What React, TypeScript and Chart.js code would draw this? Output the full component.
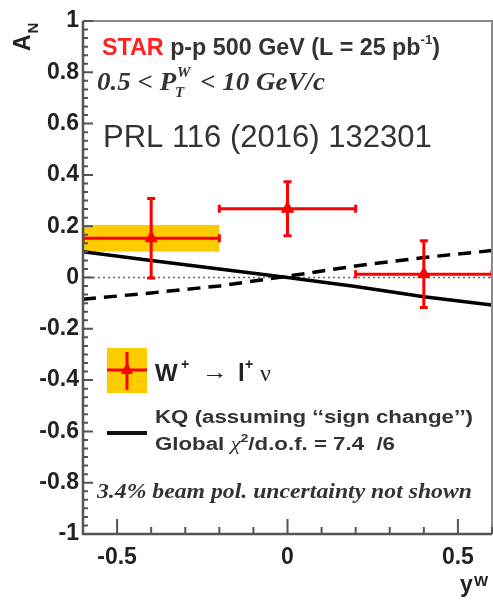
import React, { useEffect, useRef } from "react";
import { Chart, registerables } from "chart.js";

Chart.register(...registerables);

// ---- data ----
const pointX = [-0.4, 0.0, 0.4];
const pointY = [0.153, 0.268, 0.013];
const pointXErr = [0.2, 0.2, 0.2];
const pointYErr = [0.155, 0.105, 0.13];
const sysHalf = [0.052, 0.0, 0.0];
const curveX = [-0.6, -0.4, -0.2, 0, 0.2, 0.4, 0.6];
const kqSolid = [0.1, 0.066, 0.033, 0.0, -0.035, -0.075, -0.107];
const kqDashed = [-0.085, -0.06, -0.033, 0.005, 0.045, 0.078, 0.105];
const xMajorStep = 0.5;
const yMajorStep = 0.2;

const SANS = '"Liberation Sans", Arial, sans-serif';
const SERIF = '"Liberation Serif", "Times New Roman", serif';

type Part = { t: string; font: string; dy?: number; dx?: number; color?: string };

function drawParts(ctx: CanvasRenderingContext2D, parts: Part[], x: number, y: number, width?: number) {
  let total = 0;
  for (const p of parts) {
    ctx.font = p.font;
    total += ctx.measureText(p.t).width + (p.dx || 0);
  }
  const sx = width ? width / total : 1;
  ctx.save();
  ctx.translate(x, y);
  ctx.scale(sx, 1);
  let cx = 0;
  for (const p of parts) {
    ctx.font = p.font;
    if (p.color) ctx.fillStyle = p.color;
    ctx.fillText(p.t, cx, p.dy || 0);
    cx += ctx.measureText(p.t).width + (p.dx || 0);
  }
  ctx.restore();
}

const decor = {
  id: "decor",
  beforeDatasetsDraw(chart: any) {
    const { ctx, chartArea: ca, scales } = chart;
    const xs = scales.x, ys = scales.y;
    ctx.save();
    ctx.beginPath();
    ctx.rect(ca.left, ca.top, ca.right - ca.left, ca.bottom - ca.top);
    ctx.clip();
    ctx.fillStyle = "#ffcc00";
    for (let i = 0; i < pointX.length; i++) {
      if (sysHalf[i] <= 0) continue;
      const x0 = xs.getPixelForValue(pointX[i] - pointXErr[i]);
      const x1 = xs.getPixelForValue(pointX[i] + pointXErr[i]);
      const y0 = ys.getPixelForValue(pointY[i] + sysHalf[i]);
      const y1 = ys.getPixelForValue(pointY[i] - sysHalf[i]);
      ctx.fillRect(x0, y0, x1 - x0, y1 - y0);
    }
    ctx.strokeStyle = "#666";
    ctx.lineWidth = 1.5;
    ctx.setLineDash([2, 3]);
    const yz = ys.getPixelForValue(0);
    ctx.beginPath();
    ctx.moveTo(ca.left, yz);
    ctx.lineTo(ca.right, yz);
    ctx.stroke();
    ctx.restore();
  },
  afterDatasetDraw(chart: any, args: any) {
    if (args.index !== 1) return;
    const { ctx, chartArea: ca, scales } = chart;
    const xs = scales.x, ys = scales.y;
    ctx.save();
    ctx.beginPath();
    ctx.rect(ca.left, ca.top, ca.right - ca.left, ca.bottom - ca.top);
    ctx.clip();
    ctx.strokeStyle = "#ff0000";
    ctx.lineWidth = 3;
    for (let i = 0; i < pointX.length; i++) {
      const px = xs.getPixelForValue(pointX[i]);
      const py = ys.getPixelForValue(pointY[i]);
      const xl = xs.getPixelForValue(pointX[i] - pointXErr[i]);
      const xr = xs.getPixelForValue(pointX[i] + pointXErr[i]);
      const yt = ys.getPixelForValue(pointY[i] + pointYErr[i]);
      const yb = ys.getPixelForValue(pointY[i] - pointYErr[i]);
      ctx.beginPath();
      ctx.moveTo(xl, py); ctx.lineTo(xr, py);
      ctx.moveTo(px, yt); ctx.lineTo(px, yb);
      ctx.moveTo(px - 4, yt); ctx.lineTo(px + 4, yt);
      ctx.moveTo(px - 4, yb); ctx.lineTo(px + 4, yb);
      ctx.moveTo(xl, py - 4); ctx.lineTo(xl, py + 4);
      ctx.moveTo(xr, py - 4); ctx.lineTo(xr, py + 4);
      ctx.stroke();
    }
    ctx.restore();
  },
  afterDraw(chart: any) {
    const { ctx, chartArea: ca, scales } = chart;
    const xs = scales.x, ys = scales.y;
    ctx.save();
    ctx.strokeStyle = "#8a8a8a";
    ctx.lineWidth = 2;
    ctx.beginPath();
    ctx.moveTo(ca.left, ca.top); ctx.lineTo(ca.right, ca.top); ctx.lineTo(ca.right, ca.bottom);
    ctx.stroke();
    ctx.strokeStyle = "#555";
    ctx.lineWidth = 2.5;
    ctx.beginPath();
    ctx.moveTo(ca.left, ca.top); ctx.lineTo(ca.left, ca.bottom); ctx.lineTo(ca.right, ca.bottom);
    ctx.stroke();
    ctx.lineWidth = 2;
    ctx.beginPath();
    const yMinor = yMajorStep / 6;
    for (let k = 0; k <= Math.round((ys.max - ys.min) / yMinor); k++) {
      const v = ys.min + k * yMinor;
      const p = ys.getPixelForValue(v);
      const major = k % 6 === 0;
      ctx.moveTo(ca.left, p); ctx.lineTo(ca.left + (major ? 10 : 5), p);
    }
    const xMinor = xMajorStep / 5;
    for (let k = -6; k <= 6; k++) {
      const p = xs.getPixelForValue(k * xMinor);
      const major = k % 5 === 0;
      ctx.moveTo(p, ca.bottom); ctx.lineTo(p, ca.bottom - (major ? 15 : 7));
    }
    ctx.stroke();

    ctx.textBaseline = "alphabetic";
    ctx.textAlign = "left";
    // A_N
    ctx.save();
    ctx.translate(30, 51);
    ctx.rotate(-Math.PI / 2);
    ctx.fillStyle = "#222";
    ctx.font = `bold 23px ${SANS}`;
    ctx.fillText("A", 0, 0);
    const aw = ctx.measureText("A").width;
    ctx.font = `bold 15px ${SANS}`;
    ctx.fillText("N", aw + 1, 8);
    ctx.restore();

    // y^W
    ctx.fillStyle = "#222";
    ctx.font = `bold 23px ${SANS}`;
    ctx.fillText("y", 460, 592);
    ctx.font = `bold 15px ${SANS}`;
    ctx.fillText("W", 474, 586);

    // STAR line
    drawParts(ctx, [
      { t: "STAR ", font: `bold 23px ${SANS}`, color: "#ff2020" },
      { t: "p-p 500 GeV (L = 25 pb", font: `bold 23px ${SANS}`, color: "#333" },
      { t: "-1", font: `bold 13px ${SANS}`, dy: -11 },
      { t: ")", font: `bold 23px ${SANS}` },
    ], 102, 55, 338);

    // pT line
    ctx.fillStyle = "#333";
    const pFont = `italic bold 25px ${SERIF}`;
    drawParts(ctx, [
      { t: "0.5 < P", font: pFont },
      { t: "", font: pFont, dx: 16 },
      { t: " < 10 GeV/c", font: pFont },
    ], 97, 90, 228);
    ctx.font = pFont;
    const w0 = ctx.measureText("0.5 < P").width;
    const wAll = w0 + 16 + ctx.measureText(" < 10 GeV/c").width;
    const sc = 228 / wAll;
    ctx.font = `italic bold 15px ${SERIF}`;
    ctx.fillText("W", 97 + w0 * sc + 1, 77);
    ctx.fillText("T", 97 + w0 * sc - 1, 97);

    // PRL
    ctx.fillStyle = "#333";
    ctx.font = `31px ${SANS}`;
    ctx.fillText("PRL 116 (2016) 132301", 103, 147);

    // legend marker
    ctx.fillStyle = "#ffcc00";
    ctx.fillRect(107, 348, 40, 45);
    ctx.strokeStyle = "#ff0000";
    ctx.lineWidth = 3;
    ctx.beginPath();
    ctx.moveTo(107, 370); ctx.lineTo(147, 370);
    ctx.moveTo(127, 352); ctx.lineTo(127, 390);
    ctx.stroke();
    ctx.fillStyle = "#ff0000";
    ctx.beginPath();
    ctx.moveTo(127, 362); ctx.lineTo(133, 374); ctx.lineTo(121, 374); ctx.closePath();
    ctx.fill();

    ctx.fillStyle = "#222";
    ctx.font = `bold 24px ${SANS}`;
    ctx.fillText("W", 155, 381);
    ctx.fillText("l", 238, 381);
    ctx.font = `bold 14px ${SANS}`;
    ctx.fillText("+", 181, 369);
    ctx.fillText("+", 245, 369);
    drawParts(ctx, [{ t: "\u2192", font: `bold 22px ${SANS}` }], 202, 379, 26);
    ctx.font = `24px ${SERIF}`;
    ctx.fillText("\u03bd", 260, 381);

    ctx.strokeStyle = "#111";
    ctx.lineWidth = 4;
    ctx.beginPath();
    ctx.moveTo(107, 433); ctx.lineTo(147, 433);
    ctx.stroke();

    ctx.fillStyle = "#333";
    drawParts(ctx, [{ t: "KQ (assuming \u2018\u2018sign change\u2019\u2019)", font: `bold 18px ${SANS}` }], 155, 423, 318);
    drawParts(ctx, [
      { t: "Global ", font: `bold 18px ${SANS}` },
      { t: "\u03c7", font: `italic 19px ${SERIF}` },
      { t: "2", font: `bold 11px ${SANS}`, dy: -8 },
      { t: "/d.o.f. = 7.4  /6", font: `bold 18px ${SANS}` },
    ], 155, 450, 240);

    drawParts(ctx, [{ t: "3.4% beam pol. uncertainty not shown", font: `italic bold 21px ${SERIF}` }], 97, 498, 375);
    ctx.restore();
  },
};

export default function App() {
  const ref = useRef<HTMLCanvasElement>(null);
  useEffect(() => {
    const canvas = ref.current!;
    const chart = new Chart(canvas, {
      type: "scatter",
      data: {
        datasets: [
          {
            type: "line",
            data: curveX.map((x, i) => ({ x, y: kqSolid[i] })),
            borderColor: "#000",
            borderWidth: 3.5,
            pointRadius: 0,
            order: 3,
          } as any,
          {
            type: "line",
            data: curveX.map((x, i) => ({ x, y: kqDashed[i] })),
            borderColor: "#000",
            borderWidth: 3.5,
            borderDash: [13, 8],
            pointRadius: 0,
            order: 2,
          } as any,
          {
            type: "scatter",
            data: pointX.map((x, i) => ({ x, y: pointY[i] })),
            pointStyle: "triangle",
            pointRadius: 7,
            backgroundColor: "#ff0000",
            borderColor: "#ff0000",
            borderWidth: 1,
            order: 1,
          } as any,
        ],
      },
      options: {
        animation: false,
        responsive: false,
        events: [],
        layout: { autoPadding: false, padding: { left: 0, right: 1, top: 21, bottom: 0 } },
        plugins: { legend: { display: false }, tooltip: { enabled: false } },
        scales: {
          x: {
            type: "linear",
            min: -0.6,
            max: 0.6,
            border: { display: false },
            grid: { display: false, drawTicks: false },
            ticks: {
              stepSize: xMajorStep,
              includeBounds: false,
              padding: 10,
              color: "#222",
              font: { family: SANS, size: 23, weight: "bold" },
              callback: (v: any) => String(Math.round(Number(v) * 10) / 10),
            },
            afterFit: (s: any) => { s.height = 66; s.paddingLeft = 0; s.paddingRight = 0; },
          },
          y: {
            type: "linear",
            min: -1,
            max: 1,
            border: { display: false },
            grid: { display: false, drawTicks: false },
            ticks: {
              stepSize: yMajorStep,
              padding: 4,
              color: "#222",
              font: { family: SANS, size: 23, weight: "bold" },
              callback: (v: any) => String(Math.round(Number(v) * 10) / 10),
            },
            afterFit: (s: any) => { s.width = 83; s.paddingTop = 0; s.paddingBottom = 0; },
          },
        },
      } as any,
      plugins: [decor],
    });
    return () => chart.destroy();
  }, []);
  return (
    <div style={{ position: "absolute", left: 0, top: 0, width: 493, height: 600, background: "#fff" }}>
      <canvas ref={ref} width={493} height={600} />
    </div>
  );
}
